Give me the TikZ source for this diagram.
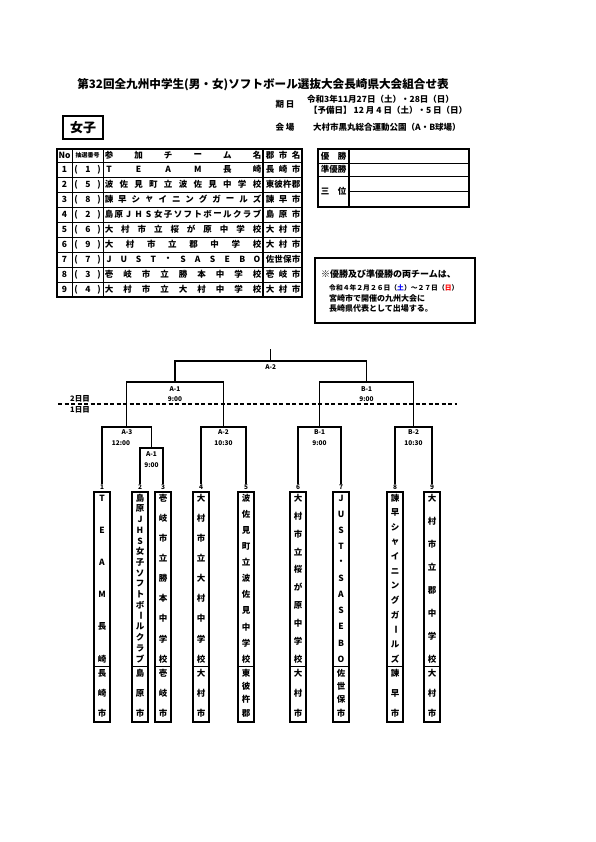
\documentclass[tikz,border=0pt]{standalone}
\usepackage{fontspec}
\setmainfont{Noto Sans CJK JP}
\usepackage{graphicx}
\newcommand\vch{\rotatebox[origin=c]{-90}{ー}}
\newcommand\hspread[7]{%
  \foreach \c [count=\i] in {#7}{\node[#1] (#2-\i) at ({#3+(\i-1)*(#4-#3)/(#6-1)},#5) {\c};}}
\newcommand\vspread[7]{%
  \foreach \c [count=\i] in {#7}{\node[#1] (#2-\i) at (#3,{#4+(\i-1)*(#5-#4)/(#6-1)}) {\c};}}
\newcommand\trow[7]{%
  \pgfmathsetmacro\yy{169.5+15*(#1-1)}
  \node[tt] (no#1) at (64.5,\yy) {#2};
  \node[tt] (lp#1) at (76,\yy) {(};
  \node[tt] (ln#1) at (88,\yy) {#3};
  \node[tt] (rp#1) at (99,\yy) {)};
  \hspread{tt}{tm#1}{109}{257}{\yy}{#4}{#5}
  \hspread{tt}{ct#1}{270}{296}{\yy}{#6}{#7}
}
\newcommand\team[6]{% #1 idx, #2 x, #3 n, #4 list, #5 cn, #6 clist
  \node[teambox] (t#1) at (#2,607) {};
  \node[num] (n#1) at (#2,487) {#1};
  \draw[thinl] (t#1.west |- 0,666) -- (t#1.east |- 0,666);
  \vspread{vt}{tv#1}{#2}{498}{659}{#3}{#4}
  \vspread{vt}{cv#1}{#2}{673}{713}{#5}{#6}
}
\tikzset{
  tt/.style={inner sep=0pt, font=\bfseries\fontsize{8.5}{9}\selectfont},
  vt/.style={inner sep=0pt, font=\bfseries\fontsize{8.5}{9}\selectfont},
  num/.style={inner sep=0pt, font=\bfseries\fontsize{6.5}{7}\selectfont},
  lbl/.style={inner sep=0pt, font=\bfseries\fontsize{6.5}{7}\selectfont},
  teambox/.style={draw, line width=1.2pt, minimum width=16pt, minimum height=230pt, inner sep=0pt},
  br/.style={line width=1.3pt},
  thinl/.style={line width=0.7pt},
  thickl/.style={line width=1.5pt},
}
\begin{document}
\begin{tikzpicture}[x=1pt,y=-1pt]
\useasboundingbox (0,0) rectangle (595,842);
\fill[white] (0,0) rectangle (595,842);

% title
\node[inner sep=0pt, font=\bfseries\fontsize{11.6}{12}\selectfont] (title) at (263,85)
  {第32回全九州中学生(男・女)ソフトボール選抜大会長崎県大会組合せ表};
\node[inner sep=0pt, font=\bfseries\fontsize{8.5}{9}\selectfont] (kijitsu) at (285,104) {期\ 日};
\node[inner sep=0pt, anchor=west, font=\bfseries\fontsize{8.5}{9}\selectfont] (date1) at (307,99) {令和3年11月27日（土）・28日（日）};
\node[inner sep=0pt, anchor=west, font=\bfseries\fontsize{8.5}{9}\selectfont] (date2) at (309,110.5) {【予備日】 12 月 4 日（土）・5 日（日）};
\node[inner sep=0pt, font=\bfseries\fontsize{8.5}{9}\selectfont] (kaijo) at (285,127) {会\ 場};
\node[inner sep=0pt, anchor=west, font=\bfseries\fontsize{8.5}{9}\selectfont] (venue) at (313,127) {大村市黒丸総合運動公園（A・B球場）};
\node[draw, line width=1.5pt, minimum width=40pt, minimum height=23pt, inner sep=0pt,
  font=\bfseries\fontsize{13}{14}\selectfont] (joshi) at (83,127.5) {女子};

% table
\draw[thickl] (57,149) rectangle (302,297);
\foreach \yv in {162,177,192,207,222,237,252,267,282} \draw[thinl] (57,\yv) -- (302,\yv);
\draw[thinl] (72,149) -- (72,297);
\draw[thinl] (103,149) -- (103,297);
\draw[line width=1.1pt] (263,149) -- (263,297);
\node[tt] (hno) at (64.5,155.5) {No};
\node[inner sep=0pt, font=\bfseries\fontsize{6}{6}\selectfont] (hlot) at (87.5,155.5) {抽選番号};
\hspread{tt}{hteam}{109}{257}{155.5}{6}{参,加,チ,ー,ム,名}
\hspread{tt}{hcity}{270}{296}{155.5}{3}{郡,市,名}
\trow{1}{1}{1}{6}{T,E,A,M,長,崎}{3}{長,崎,市}
\trow{2}{2}{5}{11}{波,佐,見,町,立,波,佐,見,中,学,校}{4}{東,彼,杵,郡}
\trow{3}{3}{8}{12}{諫,早,シ,ャ,イ,ニ,ン,グ,ガ,ー,ル,ズ}{3}{諫,早,市}
\trow{4}{4}{2}{16}{島,原,J,H,S,女,子,ソ,フ,ト,ボ,ー,ル,ク,ラ,ブ}{3}{島,原,市}
\trow{5}{5}{6}{10}{大,村,市,立,桜,が,原,中,学,校}{3}{大,村,市}
\trow{6}{6}{9}{8}{大,村,市,立,郡,中,学,校}{3}{大,村,市}
\trow{7}{7}{7}{11}{J,U,S,T,・,S,A,S,E,B,O}{4}{佐,世,保,市}
\trow{8}{8}{3}{9}{壱,岐,市,立,勝,本,中,学,校}{3}{壱,岐,市}
\trow{9}{9}{4}{9}{大,村,市,立,大,村,中,学,校}{3}{大,村,市}

% results box
\draw[thickl] (318,149) rectangle (469,207);
\draw[thinl] (318,163) -- (469,163);
\draw[thinl] (318,176) -- (469,176);
\draw[thinl] (349,191.5) -- (469,191.5);
\draw[line width=1.1pt] (349,149) -- (349,207);
\hspread{tt}{yu}{325}{342}{156}{2}{優,勝}
\hspread{tt}{jy}{325}{342}{169.5}{3}{準,優,勝}
\hspread{tt}{sa}{325}{342}{191.5}{2}{三,位}

% note box
\draw[line width=2pt] (315,258) rectangle (475,323);
\node[inner sep=0pt, anchor=west, font=\bfseries\fontsize{9}{10}\selectfont] (note1) at (321,274) {※優勝及び準優勝の両チームは、};
\node[inner sep=0pt, anchor=west, font=\bfseries\fontsize{6.8}{7}\selectfont] (note2) at (329,288)
  {令和４年２月２６日（\textcolor{blue}{土}）～２７日（\textcolor{red}{日}）};
\node[inner sep=0pt, anchor=west, font=\bfseries\fontsize{8}{9}\selectfont] (note3) at (329,298) {宮崎市で開催の九州大会に};
\node[inner sep=0pt, anchor=west, font=\bfseries\fontsize{8}{9}\selectfont] (note4) at (329,308) {長崎県代表として出場する。};

% teams
\team{1}{102}{6}{T,E,A,M,長,崎}{3}{長,崎,市}
\team{2}{140}{16}{島,原,J,H,S,女,子,ソ,フ,ト,ボ,\vch,ル,ク,ラ,ブ}{3}{島,原,市}
\team{3}{163}{9}{壱,岐,市,立,勝,本,中,学,校}{3}{壱,岐,市}
\team{4}{201}{9}{大,村,市,立,大,村,中,学,校}{3}{大,村,市}
\team{5}{246}{11}{波,佐,見,町,立,波,佐,見,中,学,校}{4}{東,彼,杵,郡}
\team{6}{298}{10}{大,村,市,立,桜,が,原,中,学,校}{3}{大,村,市}
\team{7}{341}{11}{J,U,S,T,・,S,A,S,E,B,O}{4}{佐,世,保,市}
\team{8}{395}{12}{諫,早,シ,ャ,イ,ニ,ン,グ,ガ,\vch,ル,ズ}{3}{諫,早,市}
\team{9}{432}{8}{大,村,市,立,郡,中,学,校}{3}{大,村,市}

% bracket
\coordinate (mA3) at (126.5,427);
\coordinate (mA3r) at (151.5,448);
\coordinate (mA2) at (223.5,427);
\coordinate (mB1) at (319.5,427);
\coordinate (mB2) at (413.5,427);
\coordinate (sA1) at (175,382);
\coordinate (sB1) at (366.5,382);
\coordinate (fin) at (270.75,361);
\coordinate (top) at (270.75,349);
\draw[br] (n2.north) |- (n3.north |- mA3r) -- (n3.north);
\draw[br] (n1.north) |- (mA3r |- mA3) -- (mA3r);
\draw[br] (n4.north) |- (n5.north |- mA2) -- (n5.north);
\draw[br] (n6.north) |- (n7.north |- mB1) -- (n7.north);
\draw[br] (n8.north) |- (n9.north |- mB2) -- (n9.north);
\draw[br] (mA3) |- (mA2 |- sA1) -- (mA2);
\draw[br] (mB1) |- (mB2 |- sB1) -- (mB2);
\draw[br] (sA1) |- (sB1 |- fin) -- (sB1);
\draw[br] (fin) -- (top);

% match labels
\node[lbl] (lF) at (270.75,367) {A-2};
\node[lbl] (lsA) at (175,389) {A-1};
\node[lbl] (tsA) at (175,399) {9:00};
\node[lbl] (lsB) at (366.5,389) {B-1};
\node[lbl] (tsB) at (366.5,399) {9:00};
\node[lbl] (lA3) at (127,432) {A-3};
\node[lbl] (tA3) at (121,443) {12:00};
\node[lbl] (lA1) at (151.5,454) {A-1};
\node[lbl] (tA1) at (151.5,465) {9:00};
\node[lbl] (lA2) at (223.5,432) {A-2};
\node[lbl] (tA2) at (223.5,443) {10:30};
\node[lbl] (lB1) at (319.5,432) {B-1};
\node[lbl] (tB1) at (319.5,443) {9:00};
\node[lbl] (lB2) at (413.5,432) {B-2};
\node[lbl] (tB2) at (413.5,443) {10:30};

% day divider
\coordinate (d1) at (58,404);
\coordinate (d2) at (457,404);
\draw[line width=1.2pt, dash pattern=on 4pt off 2.5pt] (d1) -- (d2);
\node[lbl, font=\bfseries\fontsize{7.5}{8}\selectfont] (day2) at (80,399) {2日目};
\node[lbl, font=\bfseries\fontsize{7.5}{8}\selectfont] (day1) at (80,410) {1日目};
\end{tikzpicture}
\end{document}
